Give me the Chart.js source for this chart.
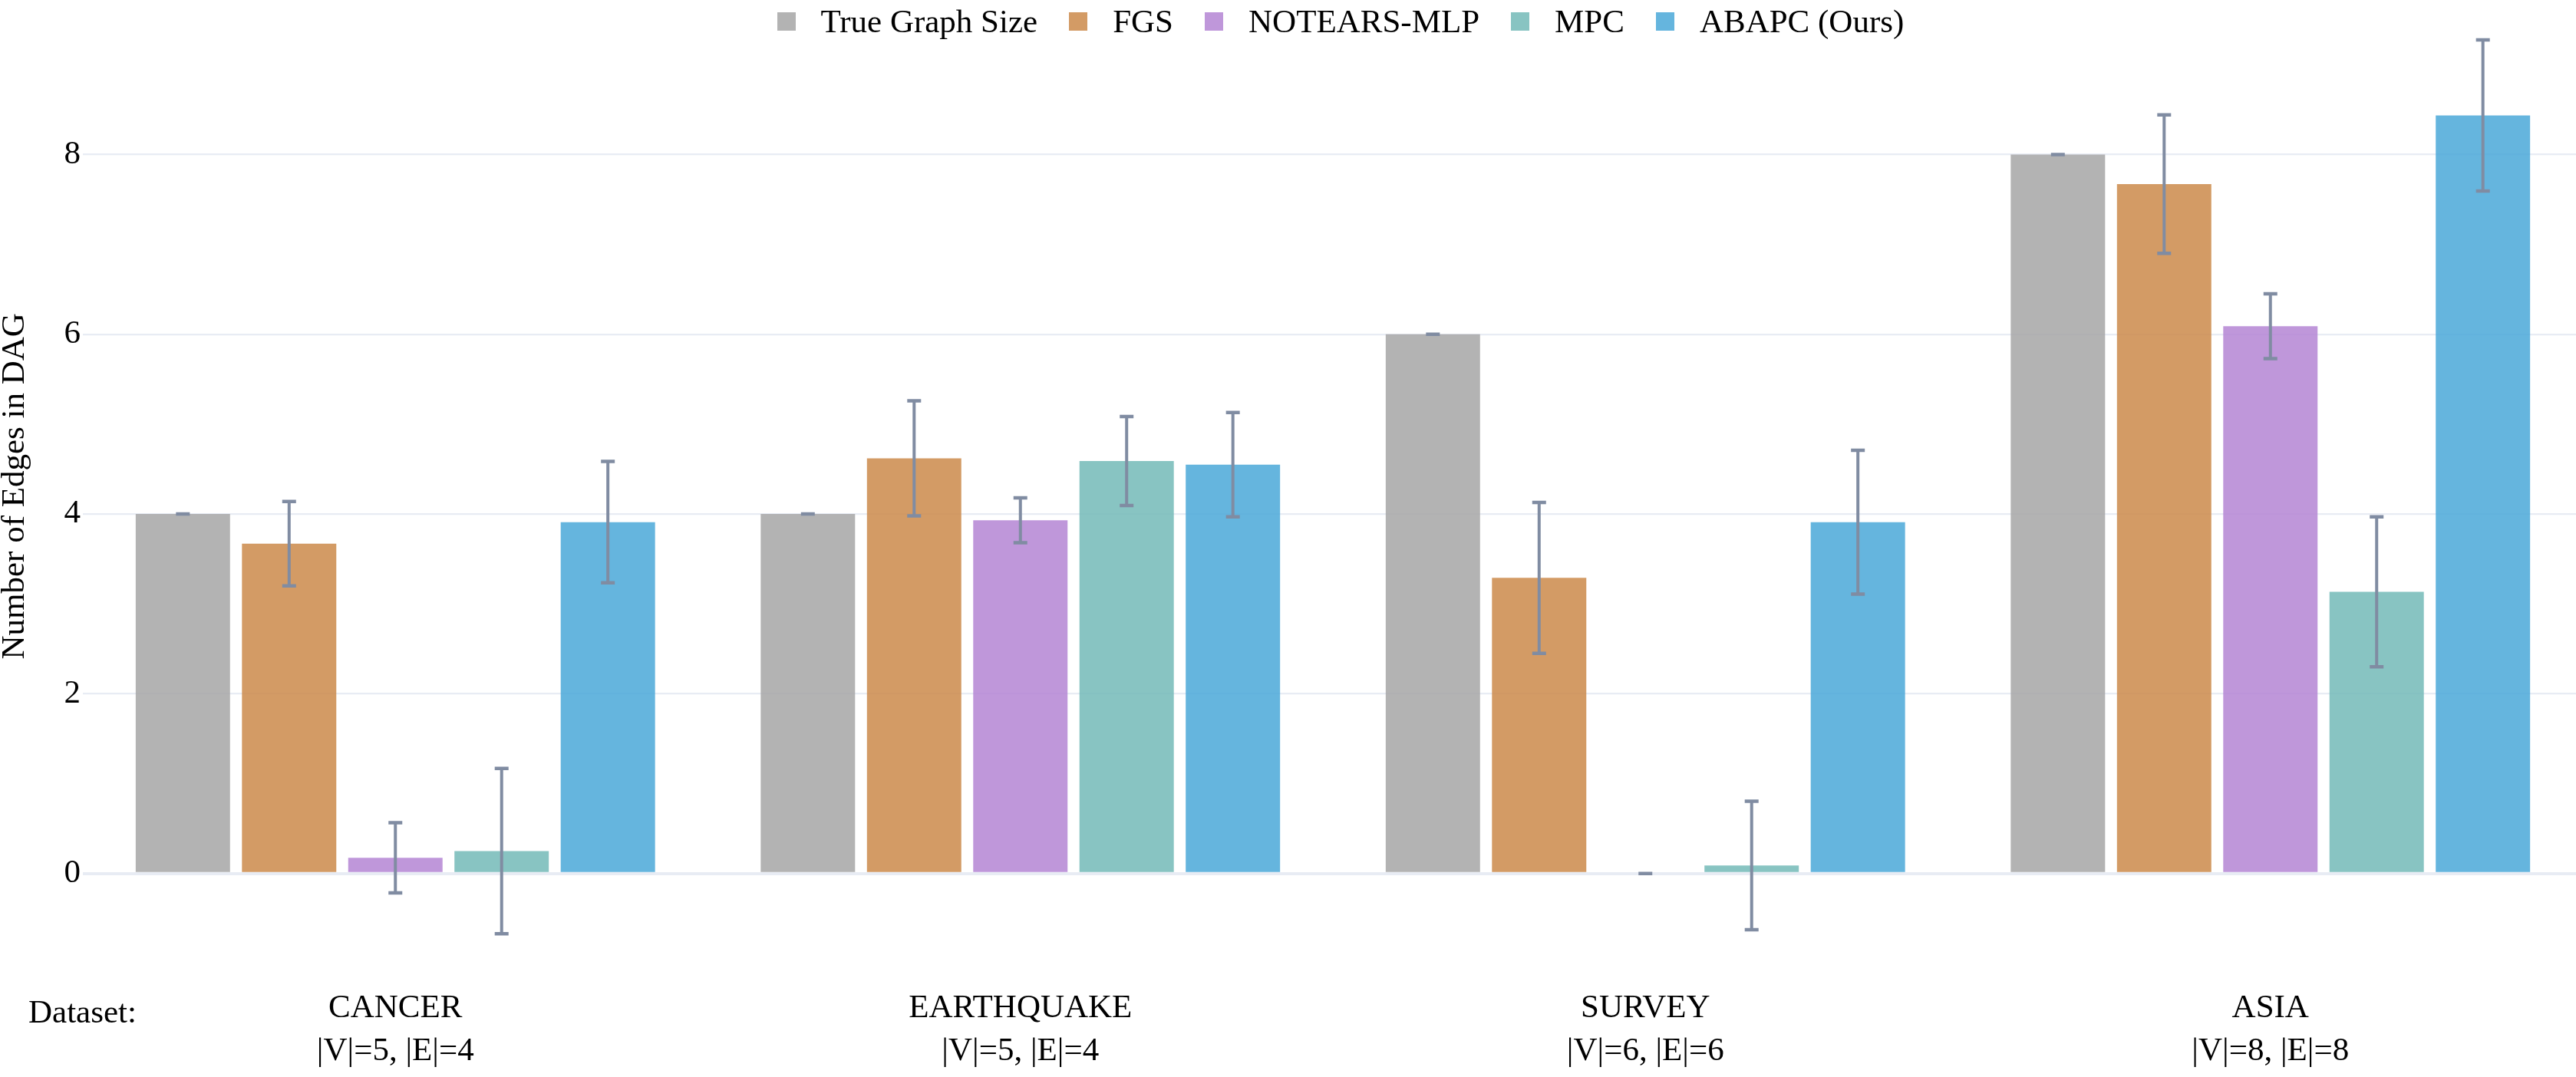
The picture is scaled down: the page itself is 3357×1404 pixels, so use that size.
<!DOCTYPE html>
<html>
<head>
<meta charset="utf-8">
<title>Number of Edges in DAG</title>
<script src="https://cdn.jsdelivr.net/npm/chart.js@4.4.1/dist/chart.umd.min.js"></script>
<style>
  html,body{margin:0;padding:0;background:#fff;overflow:hidden}
  #wrap{position:relative;width:3366px;height:1404px}
  #legend{position:absolute;top:1px;left:0;display:flex;font-family:'Liberation Serif','Times New Roman',serif;font-size:43px;line-height:54px;color:#000;white-space:nowrap}
  #legend .it{display:flex;align-items:center;margin-right:41px}
  #legend .it:last-child{margin-right:0}
  #legend i{display:block;width:24px;height:24px;margin-right:33px}
</style>
</head>
<body>
<div id="wrap"><canvas id="c"></canvas><div id="legend"></div></div>
<script>
const FONT="'Liberation Serif','Times New Roman',serif";

// data
const categories=['CANCER','EARTHQUAKE','SURVEY','ASIA'];
const graphSizes=['|V|=5, |E|=4','|V|=5, |E|=4','|V|=6, |E|=6','|V|=8, |E|=8'];
const seriesNames=['True Graph Size','FGS','NOTEARS-MLP','MPC','ABAPC (Ours)'];
const trueSize=[4,4,6,8],          trueErr=[0,0,0,0];
const fgs=[3.67,4.62,3.29,7.67],    fgsErr=[0.47,0.64,0.84,0.77];
const notears=[0.175,3.93,0,6.09],  notearsErr=[0.39,0.25,0,0.36];
const mpc=[0.25,4.59,0.09,3.135],   mpcErr=[0.92,0.495,0.715,0.835];
const abapc=[3.91,4.55,3.91,8.435], abapcErr=[0.675,0.58,0.80,0.84];
const yTicks=[0,2,4,6,8];

const COLORS=['rgba(166,166,166,0.85)','rgba(203,138,74,0.85)','rgba(180,133,211,0.85)','rgba(115,186,183,0.85)','rgba(74,168,216,0.85)'];
const ERR_COLOR='#808ca2';

const values=[trueSize,fgs,notears,mpc,abapc];
const errors=[trueErr,fgsErr,notearsErr,mpcErr,abapcErr];

// error bars + "Dataset:" annotation
const errorBars={id:'errorBars',afterDatasetsDraw(chart){
  const {ctx,scales:{y}}=chart;
  ctx.save();
  ctx.strokeStyle=ERR_COLOR;
  chart.data.datasets.forEach((ds,di)=>{
    chart.getDatasetMeta(di).data.forEach((bar,i)=>{
      const v=ds.data[i], e=ds.err[i], x=bar.x;
      const yt=y.getPixelForValue(v+e), yb=y.getPixelForValue(v-e);
      ctx.lineWidth=4;
      ctx.beginPath(); ctx.moveTo(x,yt); ctx.lineTo(x,yb); ctx.stroke();
      ctx.lineWidth=4.5;
      ctx.beginPath(); ctx.moveTo(x-9,yt); ctx.lineTo(x+9,yt); ctx.moveTo(x-9,yb); ctx.lineTo(x+9,yb); ctx.stroke();
    });
  });
  ctx.fillStyle='#000'; ctx.font=`43px ${FONT}`; ctx.textAlign='left'; ctx.textBaseline='alphabetic';
  ctx.fillText('Dataset:',37,1333);
  ctx.restore();
}};

const chart=new Chart(document.getElementById('c'),{
  type:'bar',
  data:{
    labels:categories.map((c,i)=>[c,graphSizes[i]]),
    datasets:seriesNames.map((n,i)=>({label:n,data:values[i],err:errors[i],backgroundColor:COLORS[i],borderWidth:0,categoryPercentage:0.85,barPercentage:0.888}))
  },
  options:{
    responsive:true,maintainAspectRatio:false,animation:false,
    layout:{padding:{top:10,left:0,right:0,bottom:0}},
    plugins:{legend:{display:false},tooltip:{enabled:false}},
    scales:{
      x:{
        grid:{display:false},border:{display:false},
        ticks:{color:'#000',font:{family:FONT,size:43,lineHeight:1.3},padding:23,maxRotation:0,autoSkip:false},
        afterFit:s=>{s.height=148;}
      },
      y:{
        min:-1.0,max:9.62,
        afterBuildTicks:s=>{s.ticks=yTicks.map(v=>({value:v}));},
        afterFit:s=>{s.width=108;},
        grid:{color:'#e8ecf4',lineWidth:c=>c.tick&&c.tick.value===0?4:2.2,drawTicks:false},
        border:{display:false},
        ticks:{color:'#000',font:{family:FONT,size:43,lineHeight:0.4},padding:3},
        title:{display:true,text:'Number of Edges in DAG',color:'#000',font:{family:FONT,size:43,lineHeight:0.9},padding:0}
      }
    }
  },
  plugins:[errorBars]
});

// legend as html, centred over the plot area (slightly right, as in the source)
const legendEl=document.getElementById('legend');
legendEl.innerHTML=seriesNames.map((n,i)=>`<div class="it"><i style="background:${COLORS[i]}"></i><span>${n}</span></div>`).join('');
const ca=chart.chartArea;
legendEl.style.left=((ca.left+ca.right)/2+10-legendEl.offsetWidth/2)+'px';
</script>
</body>
</html>
